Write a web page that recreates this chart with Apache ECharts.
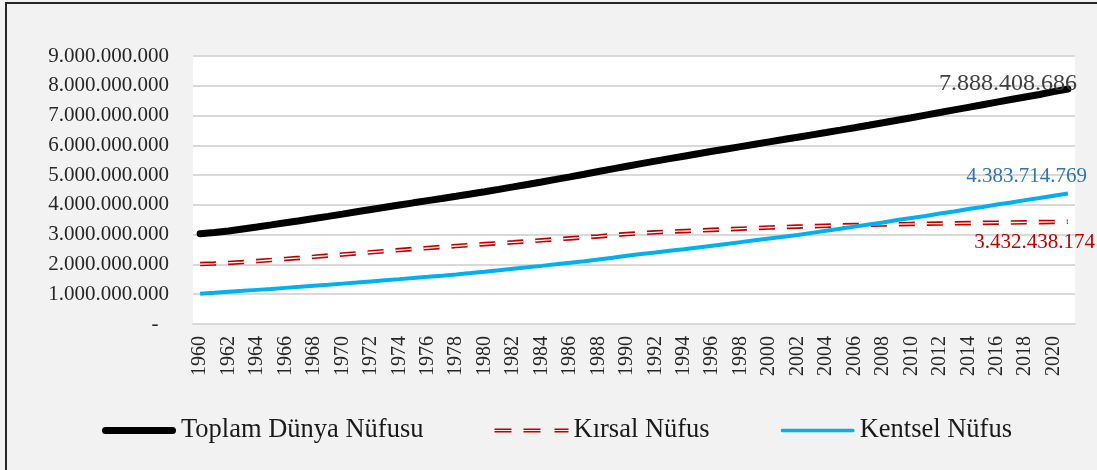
<!DOCTYPE html>
<html>
<head>
<meta charset="utf-8">
<script src="https://cdn.jsdelivr.net/npm/echarts@6/dist/echarts.min.js"></script>
<style>
  html, body { margin: 0; padding: 0; background: #f2f2f2; }
  #chart { width: 1097px; height: 470px; }
</style>
</head>
<body>
<div id="chart"></div>
<script>
// yıllar 1960-2021
var years = [];
for (var y = 1960; y <= 2021; y++) { years.push(String(y)); }

var toplam = [
  3032000000, 3073000000, 3126000000, 3193000000, 3260000000, 3328000000, 3398000000, 3468000000, 3541000000, 3615000000,
  3691000000, 3768000000, 3844000000, 3920000000, 3995000000, 4069000000, 4142000000, 4215000000, 4290000000, 4366000000,
  4443000000, 4522000000, 4604000000, 4687000000, 4770000000, 4855000000, 4941000000, 5030000000, 5120000000, 5210000000,
  5298000000, 5384000000, 5469000000, 5552000000, 5635000000, 5717000000, 5799000000, 5879000000, 5958000000, 6037000000,
  6116000000, 6194000000, 6273000000, 6352000000, 6431000000, 6511000000, 6592000000, 6674000000, 6757000000, 6841000000,
  6925000000, 7013000000, 7101000000, 7189000000, 7276000000, 7363000000, 7450000000, 7537000000, 7623000000, 7708000000,
  7805000000, 7888408686
];
var kirsal = [
  2013000000, 2030000000, 2051000000, 2081000000, 2114000000, 2149000000, 2185000000, 2221000000, 2258000000, 2296000000,
  2334000000, 2372000000, 2410000000, 2447000000, 2484000000, 2519000000, 2553000000, 2586000000, 2619000000, 2651000000,
  2682000000, 2712000000, 2744000000, 2777000000, 2810000000, 2843000000, 2876000000, 2909000000, 2941000000, 2985000000,
  3020000000, 3050000000, 3080000000, 3100000000, 3120000000, 3140000000, 3160000000, 3180000000, 3200000000, 3220000000,
  3240000000, 3255000000, 3270000000, 3285000000, 3300000000, 3310000000, 3320000000, 3330000000, 3340000000, 3350000000,
  3360000000, 3367000000, 3374000000, 3381000000, 3388000000, 3395000000, 3402000000, 3409000000, 3415000000, 3421000000,
  3427000000, 3432438174
];
var kentsel = [
  1019000000, 1050000000, 1082000000, 1113000000, 1146000000, 1179000000, 1213000000, 1247000000, 1283000000, 1319000000,
  1356000000, 1393000000, 1431000000, 1469000000, 1507000000, 1546000000, 1584000000, 1623000000, 1664000000, 1709000000,
  1755000000, 1804000000, 1853000000, 1902000000, 1952000000, 2003000000, 2056000000, 2111000000, 2167000000, 2224000000,
  2290000000, 2350000000, 2400000000, 2460000000, 2510000000, 2570000000, 2630000000, 2690000000, 2750000000, 2810000000,
  2870000000, 2930000000, 2990000000, 3060000000, 3130000000, 3200000000, 3270000000, 3340000000, 3410000000, 3490000000,
  3560000000, 3630000000, 3710000000, 3780000000, 3860000000, 3930000000, 4010000000, 4080000000, 4160000000, 4230000000,
  4310000000, 4383714769
];

var seriesNames = ['Toplam Dünya Nüfusu', 'Kırsal Nüfus', 'Kentsel Nüfus'];
var FONT = 'Liberation Serif';

function noktali(v) {
  if (v === 0) return '-  ';
  return String(v).replace(/\B(?=(\d{3})+(?!\d))/g, '.');
}

// lejant simgeleri (74x7 çerçeve)
var ikonSiyah = 'path://M3.5,0h67a3.5,3.5 0 0 1 0,7h-67a3.5,3.5 0 0 1 0,-7z';
var ikonMavi = 'path://M0,0M74,7M1,1.7h72a1.8,1.8 0 0 1 0,3.6h-72a1.8,1.8 0 0 1 0,-3.6z';
var ikonKirmizi = 'path://M0,0M74,7' +
  'M0,1.6h17v1.3h-17zM0,4.1h17v1.3h-17z' +
  'M29,1.6h17v1.3h-17zM29,4.1h17v1.3h-17z' +
  'M60,1.6h14v1.3h-14zM60,4.1h14v1.3h-14z';

var myChart = echarts.init(document.getElementById('chart'));

var option = {
  backgroundColor: '#f2f2f2',
  animation: false,
  textStyle: { fontFamily: FONT },
  graphic: [{
    type: 'rect',
    shape: { x: 6, y: 3, width: 1200, height: 600 },
    style: { fill: 'none', stroke: '#262626', lineWidth: 2 },
    silent: true
  }],
  grid: {
    left: 193, right: 22, top: 56, bottom: 146,
    show: true, backgroundColor: '#ffffff', borderWidth: 0
  },
  legend: {
    data: [
      { name: seriesNames[0], icon: ikonSiyah },
      { name: seriesNames[1], icon: ikonKirmizi },
      { name: seriesNames[2], icon: ikonMavi }
    ],
    left: 97, top: 412,
    itemWidth: 74, itemHeight: 7, itemGap: 71,
    symbolKeepAspect: false,
    textStyle: { fontFamily: FONT, fontSize: 26.5, color: '#1a1a1a' }
  },
  xAxis: {
    type: 'category',
    data: years,
    boundaryGap: true,
    axisTick: { show: false },
    axisLine: { lineStyle: { color: '#d9d9d9', width: 2 } },
    axisLabel: {
      interval: 1, rotate: 90, margin: 12,
      fontFamily: FONT, fontSize: 20, color: '#262626'
    }
  },
  yAxis: {
    type: 'value',
    min: 0, max: 9000000000, interval: 1000000000,
    axisLine: { show: false },
    axisTick: { show: false },
    splitLine: { lineStyle: { color: '#d9d9d9', width: 2 } },
    axisLabel: {
      margin: 24, fontFamily: FONT, fontSize: 21, color: '#262626',
      formatter: noktali
    }
  },
  series: [
    {
      name: seriesNames[0], type: 'line', data: toplam, symbol: 'none', z: 5,
      lineStyle: { color: '#000000', width: 7, cap: 'round' },
      itemStyle: { color: '#000000' },
      endLabel: {
        show: true, align: 'right', offset: [1, -5],
        fontFamily: FONT, fontSize: 24, color: '#404040',
        formatter: function (p) { return noktali(p.value); }
      }
    },
    {
      name: seriesNames[1], type: 'line', data: kirsal, symbol: 'none', z: 3,
      lineStyle: { color: '#c00000', width: 4.6, type: [16, 12] },
      itemStyle: { color: '#c00000' },
      endLabel: {
        show: true, align: 'right', offset: [19, 21],
        fontFamily: FONT, fontSize: 21, color: '#c00000',
        formatter: function (p) { return noktali(p.value); }
      }
    },
    {
      // çift çizgi görünümü için beyaz iç çizgi
      name: 'kirsal-ic', type: 'line', data: kirsal, symbol: 'none', z: 4, silent: true,
      lineStyle: { color: '#ffffff', width: 1.3, type: [16, 12] }
    },
    {
      name: seriesNames[2], type: 'line', data: kentsel, symbol: 'none', z: 4,
      lineStyle: { color: '#00b0f0', width: 4 },
      itemStyle: { color: '#00b0f0' },
      endLabel: {
        show: true, align: 'right', offset: [11, -17],
        fontFamily: FONT, fontSize: 21, color: '#2e75b6',
        formatter: function (p) { return noktali(p.value); }
      }
    }
  ]
};
myChart.setOption(option);
</script>
</body>
</html>
